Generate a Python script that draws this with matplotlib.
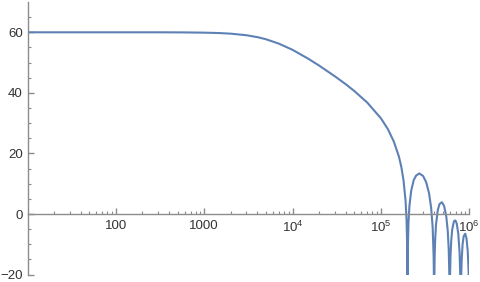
"""
plot.py

Bode-style magnitude plot (dB vs log frequency), drawn in a Mathematica-like style.
"""
import matplotlib
matplotlib.use("Agg")
import matplotlib.pyplot as plt
from matplotlib.ticker import FixedLocator, NullFormatter

plt.rcParams["font.family"] = ["Liberation Sans", "DejaVu Sans"]
plt.rcParams["mathtext.fontset"] = "custom"
plt.rcParams["mathtext.rm"] = "Liberation Sans"
plt.rcParams["mathtext.it"] = "Liberation Sans"

########
# Data #
########
# frequency samples
freq = [10, 100, 300, 600, 1000, 1500, 2000, 3000, 4000, 5000, 7000,
        1e4, 1.5e4, 2e4, 3e4, 4e4, 5e4, 7e4, 1e5, 1.2e5, 1.4e5, 1.6e5,
        1.7e5, 1.8e5, 1.9e5, 1.95e5, 1.98e5, 1.99e5, 1.995e5, 2e5,
        2.005e5, 2.01e5, 2.02e5, 2.05e5, 2.1e5, 2.2e5, 2.35e5, 2.5e5,
        2.72e5, 3e5, 3.25e5, 3.5e5, 3.7e5, 3.85e5, 3.95e5, 3.98e5, 4e5,
        4.02e5, 4.05e5, 4.1e5, 4.2e5, 4.4e5, 4.6e5, 4.9e5, 5.2e5, 5.5e5,
        5.7e5, 5.85e5, 5.94e5, 5.98e5, 6e5,
        6.02e5, 6.06e5, 6.12e5, 6.24e5, 6.4e5, 6.7e5, 6.96e5, 7.2e5,
        7.5e5, 7.76e5, 7.9e5, 8e5,
        8.04e5, 8.1e5, 8.2e5, 8.4e5, 8.64e5, 9e5, 9.3e5, 9.6e5, 9.8e5,
        9.9e5, 1e6]
# magnitude in dB
gain_db = [60.0, 60.0, 60.0, 59.96, 59.88, 59.74, 59.54, 59.03, 58.4, 57.7,
           56.25, 54.2, 51.3, 49.0, 45.5, 42.85, 40.6, 36.8, 31.6, 28.0,
           23.9, 18.9, 15.6, 11.2, 4.4, -2.1, -10.3, -16.4, -22.4, -60,
           -22.5, -16.6, -10.6, -2.9, 2.6, 7.7, 11.2, 12.7,
           13.4, 12.56, 10.5, 6.9, 2.05, -4.4, -14.3, -22.4, -60,
           -22.6, -14.8, -9.0, -3.5, 1.3, 3.3, 3.9, 2.6, -1.0,
           -5.5, -11.7, -19.8, -29.5, -60,
           -29.6, -20.2, -14.3, -8.9, -5.2, -2.4, -2.1, -3.1,
           -6.4, -12.6, -20.4, -60,
           -28.6, -20.8, -15.1, -9.95, -7.3, -6.5, -8.1, -12.3, -18.2,
           -24.3, -60]

x_major = [100, 1000, 1e4, 1e5, 1e6]
x_major_labels = ["100", "1000", "$10^4$", "$10^5$", "$10^6$"]
y_major = [-20, 0, 20, 40, 60]

########
# Plot #
########
fig = plt.figure(figsize=(4.8, 2.82), dpi=100)
ax = fig.add_axes([0.0573, 0.0262, 0.9204, 0.9667])

ax.plot(freq, gain_db, color="#5E81B5", linewidth=1.5, solid_joinstyle="round")

ax.set_xscale("log")
ax.set_xlim(10, 1e6)
ax.set_ylim(-20, 70)

# Mathematica-like axes: crossing at the origin, no box
axis_color = "#8c8c8c"
ax.spines["top"].set_visible(False)
ax.spines["right"].set_visible(False)
ax.spines["bottom"].set_position(("data", 0))
for side in ["left", "bottom"]:
    ax.spines[side].set_color(axis_color)
    ax.spines[side].set_linewidth(1.0)

minor_x = [m * 10 ** e for e in range(1, 6) for m in range(2, 10)]
ax.xaxis.set_major_locator(FixedLocator(x_major))
ax.xaxis.set_minor_locator(FixedLocator(minor_x))
ax.set_xticklabels(x_major_labels)
ax.xaxis.set_minor_formatter(NullFormatter())

ax.yaxis.set_major_locator(FixedLocator(y_major))
ax.yaxis.set_minor_locator(FixedLocator([v for v in range(-15, 70, 5) if v % 20 != 0]))

ax.tick_params(axis="both", which="major", direction="in", length=4, width=1.0,
               color=axis_color, labelcolor="#333333", labelsize=9.5)
ax.tick_params(axis="both", which="minor", direction="in", length=2.5, width=0.8,
               color=axis_color)
ax.tick_params(axis="x", which="major", pad=4)
ax.tick_params(axis="y", which="major", pad=3.5)

ax.set_facecolor("none")
fig.savefig("out.png", dpi=100)
plt.close(fig)
